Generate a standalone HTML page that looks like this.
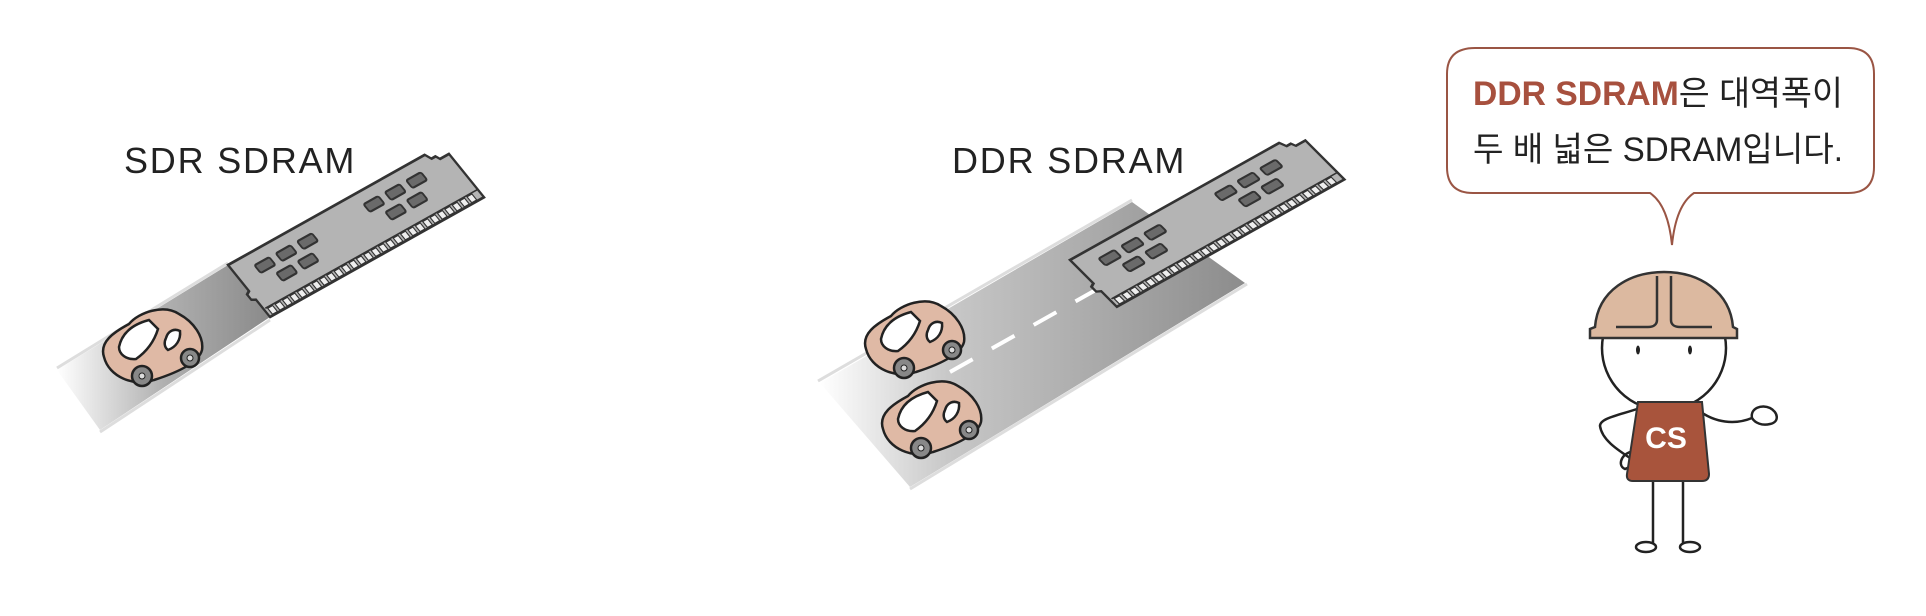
<!DOCTYPE html>
<html><head><meta charset="utf-8"><style>
html,body{margin:0;padding:0;background:#fff;}
svg{display:block}
text{font-family:"Liberation Sans","Noto Sans CJK KR",sans-serif;}
</style></head><body>
<svg width="1926" height="616" viewBox="0 0 1926 616" xmlns="http://www.w3.org/2000/svg">
<defs>
<linearGradient id="rg1" x1="57" y1="0" x2="270" y2="0" gradientUnits="userSpaceOnUse">
<stop offset="0" stop-color="#fff"/><stop offset="0.5" stop-color="#b0b0b0"/><stop offset="1" stop-color="#8a8a8a"/></linearGradient>
<linearGradient id="rg2" x1="820" y1="0" x2="1245" y2="0" gradientUnits="userSpaceOnUse">
<stop offset="0" stop-color="#fff"/><stop offset="0.3" stop-color="#c8c8c8"/><stop offset="1" stop-color="#8c8c8c"/></linearGradient>
<g id="car">
<path d="M10,55 C5,40 20,30 35,22 C45,10 70,2 85,12 C100,20 110,35 108,48 C105,60 85,70 60,78 C40,85 15,75 10,55 Z" fill="#dfb9a5" stroke="#222" stroke-width="2.5"/>
<path d="M25,45 C28,30 40,22 55,18 L64,27 C60,40 52,50 42,57 C32,58 25,52 25,45 Z" fill="#fff" stroke="#222" stroke-width="2.5"/>
<path d="M72,36 C74,29 80,26 86,29 C87,38 82,45 74,48 C70,45 70,40 72,36Z" fill="#fff" stroke="#222" stroke-width="2.5"/>
<circle cx="48" cy="74" r="10" fill="#888" stroke="#222" stroke-width="2.5"/><circle cx="48" cy="74" r="3" fill="#ddd" stroke="#222"/>
<circle cx="96" cy="56" r="9" fill="#888" stroke="#222" stroke-width="2.5"/><circle cx="96" cy="56" r="3" fill="#ddd" stroke="#222"/>
</g>
<g id="mod">
<path d="M0,0 L240,0 L243,6 L248,6 L250,10 L261,10 L261,60 L0,60 L0,40 L-4,38 L-4,32 L0,30 Z" fill="#b4b4b4" stroke="#333" stroke-width="2.5"/>
<g fill="#6a6a6a" stroke="#333" stroke-width="2">
<rect x="22" y="12" width="18" height="9" rx="2"/><rect x="48" y="12" width="18" height="9" rx="2"/><rect x="74" y="12" width="18" height="9" rx="2"/>
<rect x="35" y="28" width="18" height="9" rx="2"/><rect x="61" y="28" width="18" height="9" rx="2"/>
<rect x="155" y="12" width="18" height="9" rx="2"/><rect x="181" y="12" width="18" height="9" rx="2"/><rect x="207" y="12" width="18" height="9" rx="2"/>
<rect x="168" y="28" width="18" height="9" rx="2"/><rect x="194" y="28" width="18" height="9" rx="2"/>
</g>
<path d="M2,51 H260" stroke="#333" stroke-width="1.5"/>
<g fill="#eee" stroke="#333" stroke-width="1.2">
<rect x="4" y="52" width="6" height="7"/><rect x="13" y="52" width="6" height="7"/><rect x="22" y="52" width="6" height="7"/><rect x="31" y="52" width="6" height="7"/><rect x="40" y="52" width="6" height="7"/><rect x="49" y="52" width="6" height="7"/><rect x="58" y="52" width="6" height="7"/><rect x="67" y="52" width="6" height="7"/><rect x="76" y="52" width="6" height="7"/><rect x="85" y="52" width="6" height="7"/><rect x="94" y="52" width="6" height="7"/><rect x="103" y="52" width="6" height="7"/><rect x="112" y="52" width="6" height="7"/><rect x="121" y="52" width="6" height="7"/><rect x="130" y="52" width="6" height="7"/><rect x="139" y="52" width="6" height="7"/><rect x="148" y="52" width="6" height="7"/><rect x="157" y="52" width="6" height="7"/><rect x="166" y="52" width="6" height="7"/><rect x="175" y="52" width="6" height="7"/><rect x="184" y="52" width="6" height="7"/><rect x="193" y="52" width="6" height="7"/><rect x="202" y="52" width="6" height="7"/><rect x="211" y="52" width="6" height="7"/><rect x="220" y="52" width="6" height="7"/><rect x="229" y="52" width="6" height="7"/><rect x="238" y="52" width="6" height="7"/><rect x="247" y="52" width="6" height="7"/>
</g>
</g>
</defs>

<!-- SDR -->
<text x="124" y="173" font-size="36" fill="#222" letter-spacing="1.8">SDR SDRAM</text>
<polygon points="57,370 228,265 270,317 100,430" fill="url(#rg1)"/>
<line x1="57" y1="368" x2="228" y2="263" stroke="#ddd" stroke-width="3"/>
<line x1="100" y1="432" x2="270" y2="320" stroke="#ddd" stroke-width="3"/>
<g transform="matrix(0.82,-0.459,0.7,0.867,228,265)"><use href="#mod"/></g>
<g transform="translate(94,302)"><use href="#car"/></g>

<!-- DDR -->
<text x="952" y="173" font-size="36" fill="#222" letter-spacing="1.8">DDR SDRAM</text>
<polygon points="820,383 1132,202 1245,283 910,487" fill="url(#rg2)"/>
<line x1="818" y1="381" x2="1132" y2="200" stroke="#ddd" stroke-width="3"/>
<line x1="910" y1="489" x2="1247" y2="284" stroke="#ddd" stroke-width="3"/>
<line x1="950" y1="372" x2="1110" y2="282" stroke="#fff" stroke-width="4" stroke-dasharray="26,22"/>
<g transform="matrix(0.872,-0.488,0.78,0.78,1070,260)"><use href="#mod"/></g>
<g transform="translate(856,294)"><use href="#car"/></g>
<g transform="translate(873,374)"><use href="#car"/></g>

<!-- bubble -->
<path d="M1475,48 H1848 Q1874,48 1874,74 V167 Q1874,193 1848,193 H1694 Q1676,205 1672,245 Q1668,205 1650,193 H1473 Q1447,193 1447,167 V74 Q1447,48 1475,48 Z" fill="#fff" stroke="#9a5544" stroke-width="2"/>
<text x="1473" y="105" font-size="34" textLength="370" lengthAdjust="spacingAndGlyphs"><tspan fill="#a7503e" font-weight="bold">DDR SDRAM</tspan><tspan fill="#222">은 대역폭이</tspan></text>
<text x="1473" y="161" font-size="34" fill="#222" textLength="370" lengthAdjust="spacingAndGlyphs">두 배 넓은 SDRAM입니다.</text>

<!-- character -->
<g stroke="#222" stroke-width="2.5" fill="none">
<line x1="1653" y1="470" x2="1653" y2="543"/><line x1="1683" y1="470" x2="1683" y2="543"/>
<ellipse cx="1646" cy="547" rx="10" ry="5" fill="#fff"/><ellipse cx="1690" cy="547" rx="10" ry="5" fill="#fff"/>
<path d="M1640,408 C1620,415 1600,418 1600,426 C1602,440 1618,450 1630,458"/>
<path d="M1630,452 C1620,456 1618,466 1625,469 L1632,466"/>
<path d="M1698,410 C1715,423 1735,425 1752,418"/>
<path d="M1752,418 C1750,408 1762,404 1770,408 C1778,412 1780,422 1770,424 C1762,426 1755,423 1752,418Z" fill="#fff"/>
<circle cx="1664" cy="348" r="62" fill="#fff"/>
</g>
<ellipse cx="1638" cy="350" rx="2" ry="4.5" fill="#222"/><ellipse cx="1690" cy="350" rx="2" ry="4.5" fill="#222"/>
<path d="M1595,327 C1598,290 1630,272 1664,272 C1700,272 1730,292 1733,327 L1737,329 V338 H1590 V329 Z" fill="#dcb9a0" stroke="#333" stroke-width="2.5"/>
<path d="M1657,276 V320 C1657,325 1653,327 1648,327 H1616 M1671,276 V320 C1671,325 1675,327 1680,327 H1712" fill="none" stroke="#333" stroke-width="2.5"/>
<path d="M1638,402 L1702,402 L1709,474 Q1709,481 1702,481 L1633,481 Q1626,481 1627,474 Z" fill="#a8543c" stroke="#333" stroke-width="2"/>
<text x="1666" y="448" font-size="30" font-weight="bold" fill="#fff" text-anchor="middle">CS</text>
</svg>
</body></html>
